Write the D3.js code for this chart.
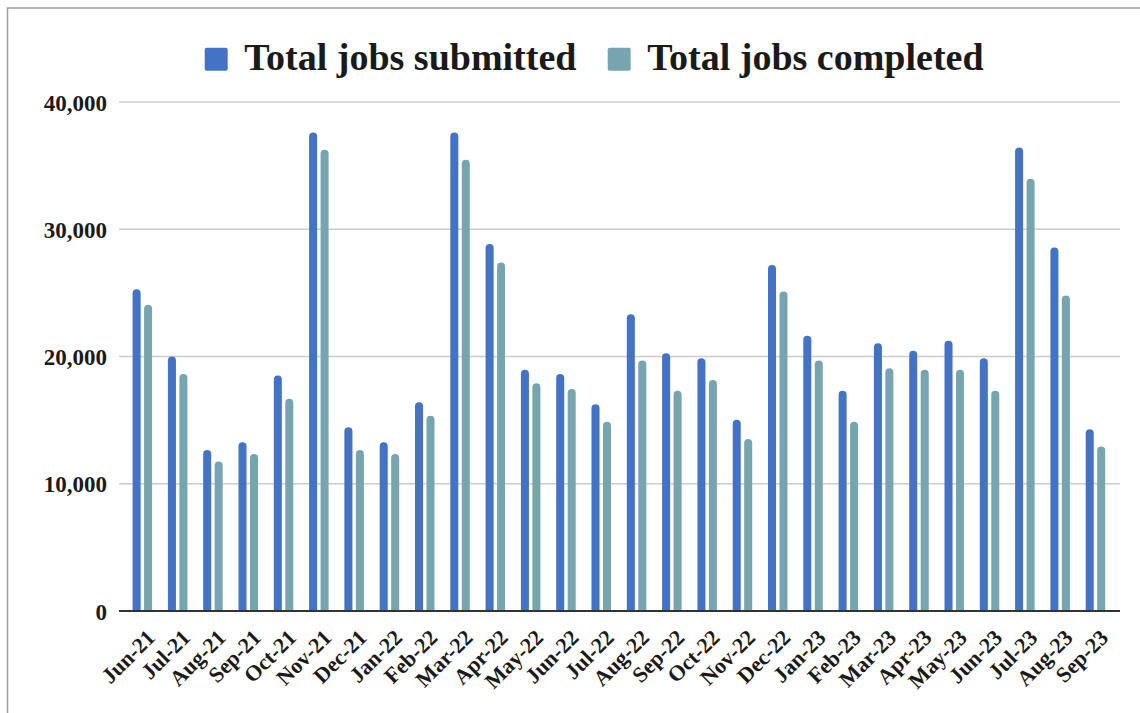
<!DOCTYPE html>
<html>
<head>
<meta charset="utf-8">
<script src="https://cdn.jsdelivr.net/npm/d3@7"></script>
<style>
  html, body { margin: 0; padding: 0; background: #fff; }
  svg { display: block; }
  text { font-family: "Liberation Serif", "Times New Roman", serif; font-weight: bold; fill: #1a1a1a; }
</style>
</head>
<body>
<script>
const months = ["Jun-21","Jul-21","Aug-21","Sep-21","Oct-21","Nov-21","Dec-21","Jan-22","Feb-22","Mar-22","Apr-22","May-22","Jun-22","Jul-22","Aug-22","Sep-22","Oct-22","Nov-22","Dec-22","Jan-23","Feb-23","Mar-23","Apr-23","May-23","Jun-23","Jul-23","Aug-23","Sep-23"];
const submitted = [25290,20000,12660,13260,18500,37600,14440,13260,16410,37600,28850,18950,18630,16250,23330,20260,19860,15020,27200,21640,17300,21040,20460,21230,19860,36420,28560,14280];
const completed = [24060,18630,11740,12340,16670,36240,12660,12340,15350,35460,27380,17900,17450,14880,19680,17300,18160,13520,25100,19680,14880,19080,18950,18950,17300,33960,24790,12920];
const seriesNames = ["Total jobs submitted","Total jobs completed"];
const seriesColors = ["#4472c4","#76a5af"];
const yTicks = [0,10000,20000,30000,40000];

const W = 1140, H = 713;
const svg = d3.select("body").append("svg").attr("width", W).attr("height", H);

// frame
svg.append("rect").attr("x", 7.5).attr("y", 8).attr("width", W + 20).attr("height", H + 20)
  .attr("fill", "none").attr("stroke", "#9e9e9e").attr("stroke-width", 1.5);

const y = d3.scaleLinear().domain([0, 40000]).range([611, 102]);
const x0 = d3.scaleBand().domain(months).range([124.7, 1113.1]).padding(0);
const x1 = d3.scaleBand().domain(seriesNames).range([-9.75, 9.75]).paddingInner(0.3);

// gridlines
svg.append("g").selectAll("line").data(yTicks.filter(d => d > 0)).join("line")
  .attr("x1", 119).attr("x2", 1120)
  .attr("y1", d => y(d)).attr("y2", d => y(d))
  .attr("stroke", "#cccccc").attr("stroke-width", 1.5);

// y axis labels
const yAxis = d3.axisLeft(y).tickValues(yTicks).tickSize(0).tickPadding(0).tickFormat(d3.format(","));
const gy = svg.append("g").attr("transform", "translate(107,0)").call(yAxis);
gy.select(".domain").remove();
gy.selectAll("text").style("font-size", "23px").attr("fill", "#1a1a1a")
  .attr("font-family", "Liberation Serif").attr("font-weight", "bold").attr("dy", "0.35em");

// bars
function topRounded(xl, w, yt, yb) {
  const r = Math.min(w / 2, (yb - yt));
  return `M${xl},${yb}V${yt + r}A${r},${r} 0 0 1 ${xl + w},${yt + r}V${yb}Z`;
}
const rows = months.map((m, i) => ({ m, vals: [submitted[i], completed[i]] }));
const groups = svg.append("g").selectAll("g").data(rows).join("g")
  .attr("transform", d => `translate(${x0(d.m) + x0.bandwidth() / 2},0)`);
groups.selectAll("path").data(d => d.vals.map((v, k) => ({ v, k }))).join("path")
  .attr("d", d => topRounded(x1(seriesNames[d.k]), x1.bandwidth(), y(d.v), y(0)))
  .attr("fill", d => seriesColors[d.k]);

// baseline
svg.append("line").attr("x1", 119).attr("x2", 1120).attr("y1", 611).attr("y2", 611)
  .attr("stroke", "#333333").attr("stroke-width", 2);

// x axis labels
const xAxis = d3.axisBottom(x0).tickSize(0).tickPadding(0);
const gx = svg.append("g").attr("transform", "translate(0,611)").call(xAxis);
gx.select(".domain").remove();
gx.selectAll("text")
  .style("font-size", "22px").attr("fill", "#1a1a1a")
  .attr("font-family", "Liberation Serif").attr("font-weight", "bold")
  .attr("text-anchor", "end").attr("dy", null).attr("y", 0)
  .attr("transform", "translate(14,28) rotate(-45)");

// legend
const legendX = [204.7, 607.7];
const lg = svg.append("g").selectAll("g").data(seriesNames).join("g")
  .attr("transform", (d, i) => `translate(${legendX[i]},47.7)`);
lg.append("rect").attr("width", 23).attr("height", 23).attr("rx", 2)
  .attr("fill", (d, i) => seriesColors[i]);
lg.append("text").attr("x", 39.5).attr("y", 22.5).style("font-size", "38px").text(d => d);
</script>
</body>
</html>
